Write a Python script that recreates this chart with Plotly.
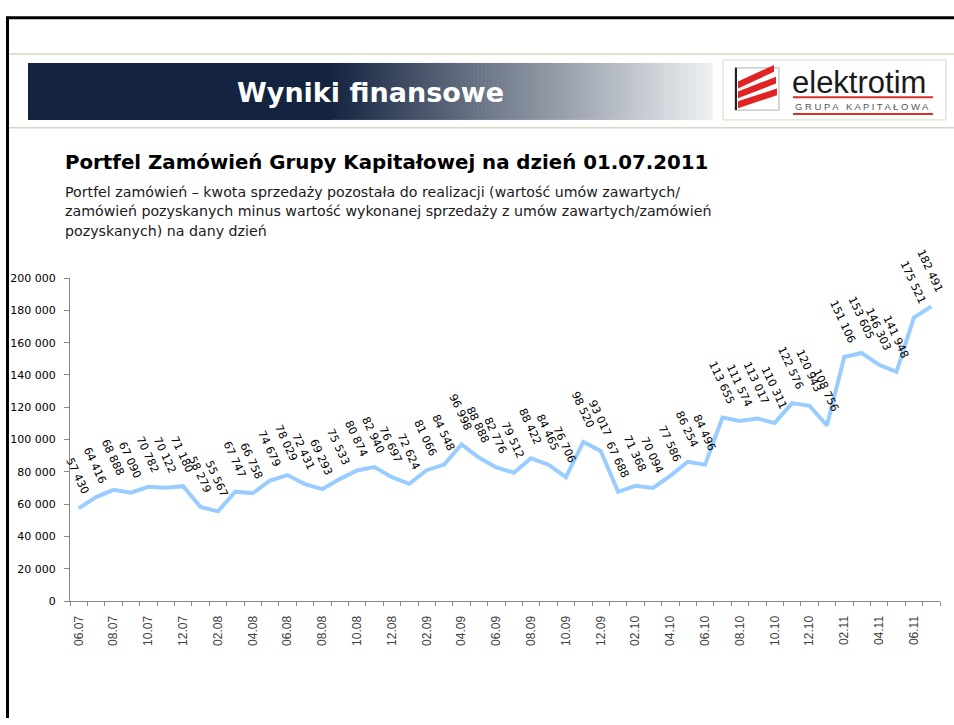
import plotly.graph_objects as go

# ---------------- data ----------------
months = [
    "06.07", "07.07", "08.07", "09.07", "10.07", "11.07", "12.07",
    "01.08", "02.08", "03.08", "04.08", "05.08", "06.08", "07.08", "08.08", "09.08", "10.08", "11.08", "12.08",
    "01.09", "02.09", "03.09", "04.09", "05.09", "06.09", "07.09", "08.09", "09.09", "10.09", "11.09", "12.09",
    "01.10", "02.10", "03.10", "04.10", "05.10", "06.10", "07.10", "08.10", "09.10", "10.10", "11.10", "12.10",
    "01.11", "02.11", "03.11", "04.11", "05.11", "06.11", "07.11",
]
values = [
    57430, 64416, 68888, 67090, 70782, 70122, 71180,
    58279, 55567, 67747, 66758, 74679, 78029, 72431, 69293, 75533, 80874, 82940, 76697,
    72624, 81066, 84548, 96998, 88888, 82776, 79512, 88422, 84465, 76706, 98520, 93017,
    67688, 71368, 70094, 77586, 86254, 84496, 113655, 111574, 113017, 110311, 122576, 120943,
    108756, 151106, 153605, 146303, 141948, 175521, 182491,
]
shown_ticks = [m if i % 2 == 0 else "" for i, m in enumerate(months)]

header_title = "Wyniki finansowe"
chart_title = "Portfel Zamówień Grupy Kapitałowej na dzień 01.07.2011"
subtitle_lines = [
    "Portfel zamówień – kwota sprzedaży pozostała do realizacji (wartość umów zawartych/",
    "zamówień pozyskanych minus wartość wykonanej sprzedaży z umów zawartych/zamówień",
    "pozyskanych) na dany dzień",
]

W, H = 954, 725


def px(x):
    return x / W


def py(y):
    return 1 - y / H


fig = go.Figure()
fig.add_trace(go.Scatter(
    x=months, y=values, mode="lines",
    line=dict(color="#99CCFF", width=4),
    hoverinfo="skip", showlegend=False,
))

# data labels (x given as category index so "06.07" is not parsed as a number)
annotations = []
for i, v in enumerate(values):
    txt = f"{v:,}".replace(",", " ")
    annotations.append(dict(
        x=i, y=v, xref="x", yref="y", text=txt, showarrow=False,
        textangle=65, xanchor="center", yanchor="middle",
        xshift=-1, yshift=14 + len(txt) * 3.0,
        font=dict(family="DejaVu Sans", size=11, color="#000000"),
    ))

# header texts
annotations.append(dict(
    x=px(370), y=py(88), xref="paper", yref="paper", text="<b>" + header_title + "</b>",
    showarrow=False, xanchor="center", yanchor="middle",
    font=dict(family="DejaVu Sans", size=27, color="white"),
))
annotations.append(dict(
    x=px(63), y=py(159), xref="paper", yref="paper", text="<b>" + chart_title + "</b>",
    showarrow=False, xanchor="left", yanchor="middle",
    font=dict(family="DejaVu Sans", size=19.8, color="black"),
))
for i, line in enumerate(subtitle_lines):
    annotations.append(dict(
        x=px(63), y=py(189 + 20 * i), xref="paper", yref="paper", text=line,
        showarrow=False, xanchor="left", yanchor="middle",
        font=dict(family="DejaVu Sans", size=14.2, color="#1a1a1a"),
    ))
# logo texts
annotations.append(dict(
    x=px(790), y=py(78), xref="paper", yref="paper", text="elektrotim",
    showarrow=False, xanchor="left", yanchor="middle",
    font=dict(family="Liberation Sans", size=31, color="#1a1a1a"),
))
annotations.append(dict(
    x=px(862), y=py(102), xref="paper", yref="paper", text="G R U P A   K A P I T A Ł O W A",
    showarrow=False, xanchor="center", yanchor="middle",
    font=dict(family="Liberation Sans", size=9.5, color="#555555"),
))

shapes = []
# gradient banner (strips)
x0, x1, xs = 28, 712, 330
dark = (20, 36, 64)
light = (238, 240, 242)
shapes.append(dict(type="rect", xref="paper", yref="paper", x0=px(x0), x1=px(xs + 1),
                   y0=py(116), y1=py(58), fillcolor="rgb(%d,%d,%d)" % dark, line=dict(width=0), layer="below"))
nstrip = 96
step = (x1 - xs) / nstrip
for k in range(nstrip):
    f = (k + 0.5) / nstrip
    c = tuple(int(round(dark[j] + (light[j] - dark[j]) * f)) for j in range(3))
    shapes.append(dict(type="rect", xref="paper", yref="paper",
                       x0=px(xs + k * step), x1=px(xs + (k + 1) * step + 0.6),
                       y0=py(116), y1=py(58), fillcolor="rgb(%d,%d,%d)" % c,
                       line=dict(width=0), layer="below"))
# thin beige separator lines
for yy in (49, 124):
    shapes.append(dict(type="line", xref="paper", yref="paper", x0=px(8), x1=px(954),
                       y0=py(yy), y1=py(yy), line=dict(color="#d9d5c3", width=1.5)))
# black frame
shapes.append(dict(type="line", xref="paper", yref="paper", x0=px(6), x1=px(954),
                   y0=py(12), y1=py(12), line=dict(color="black", width=3)))
shapes.append(dict(type="line", xref="paper", yref="paper", x0=px(7.5), x1=px(7.5),
                   y0=py(11), y1=py(725), line=dict(color="black", width=3)))
# logo box
shapes.append(dict(type="rect", xref="paper", yref="paper", x0=px(723), x1=px(946),
                   y0=py(116), y1=py(55), fillcolor="white", line=dict(color="#d9d5c3", width=1)))
shapes.append(dict(type="rect", xref="paper", yref="paper", x0=px(735), x1=px(779),
                   y0=py(106), y1=py(63), fillcolor="white", line=dict(color="#b0b0b0", width=1)))
shapes.append(dict(type="line", xref="paper", yref="paper", x0=px(736), x1=px(736),
                   y0=py(63), y1=py(106), line=dict(color="#222222", width=2)))
for (ax, ay, bx, by) in [(738, 84, 774, 67), (738, 94, 776, 79), (738, 104, 777, 91)]:
    shapes.append(dict(type="path", xref="paper", yref="paper",
                       path="M %f %f L %f %f L %f %f L %f %f Z" % (
                           px(ax), py(ay - 7), px(bx), py(by - 7),
                           px(bx), py(by), px(ax), py(ay)),
                       fillcolor="#e02424", line=dict(width=0)))
for yy in (93, 110):
    shapes.append(dict(type="line", xref="paper", yref="paper", x0=px(793), x1=px(933),
                       y0=py(yy), y1=py(yy), line=dict(color="#d9302c", width=2)))

fig.update_layout(
    width=W, height=H, autosize=False,
    margin=dict(l=0, r=0, t=0, b=0),
    paper_bgcolor="white", plot_bgcolor="white",
    separators=", ",
    showlegend=False,
    annotations=annotations,
    shapes=shapes,
    xaxis=dict(
        domain=[px(70), px(940)],
        type="category",
        range=[-0.5, len(months) - 0.5],
        tickmode="array", tickvals=months, ticktext=shown_ticks,
        tickson="boundaries",
        ticks="outside", ticklen=4, tickcolor="#868686",
        tickangle=-90,
        tickfont=dict(family="Liberation Sans", size=12, color="#404040"),
        showline=True, linecolor="#868686", linewidth=1,
        showgrid=False, zeroline=False,
        ticklabelstandoff=9,
    ),
    yaxis=dict(
        domain=[py(606), py(277)],
        range=[0, 200000],
        tickmode="linear", tick0=0, dtick=20000,
        tickformat=",d",
        ticks="outside", ticklen=5, tickcolor="#868686",
        tickfont=dict(family="DejaVu Sans", size=11, color="#000000"),
        showline=True, linecolor="#868686", linewidth=1,
        showgrid=False, zeroline=False,
        ticklabelstandoff=6,
    ),
)

fig.write_html(
    "out.html",
    config={"displayModeBar": False, "staticPlot": True},
    post_script="document.body.style.margin='0';document.body.style.overflow='hidden';",
)
